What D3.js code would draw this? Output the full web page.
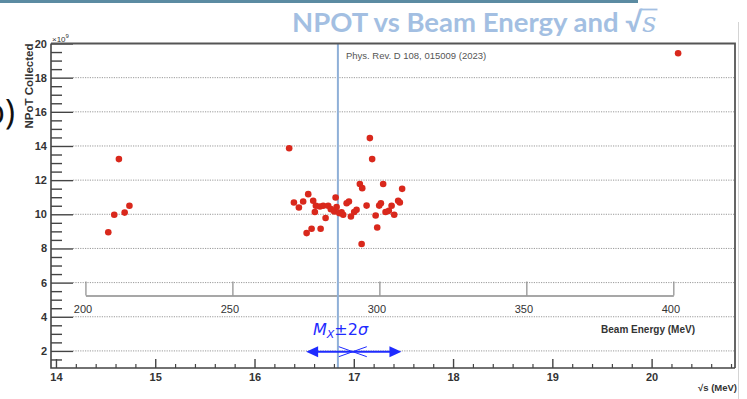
<!DOCTYPE html>
<html>
<head>
<meta charset="utf-8">
<script src="https://cdn.jsdelivr.net/npm/d3@7/dist/d3.min.js"></script>
<style>
  html, body { margin: 0; padding: 0; background: #fff; }
  svg { display: block; }
</style>
</head>
<body>
<svg id="chart" width="747" height="399"></svg>
<script>
// Collected protons on target per run, vs centre-of-mass energy sqrt(s) [MeV]
const sqrtS = [
  14.527, 14.587, 14.692, 14.740, 14.634,
  16.349, 16.397, 16.447, 16.490, 16.541, 16.591, 16.618, 16.608, 16.659,
  16.692, 16.742, 16.769, 16.803, 16.827, 16.716, 16.525, 16.575, 16.666,
  16.817, 16.877, 16.893, 16.853, 16.928, 16.951, 16.971, 17.004, 17.028,
  17.061, 17.085, 17.079, 17.129, 17.162, 17.185, 17.220, 17.236, 17.256,
  17.273, 17.296, 17.320, 17.353, 17.381, 17.407, 17.447, 17.464, 17.487,
  20.267
];
// NPOT collected, in units of 1e9
const npot = [
  8.95, 9.97, 10.10, 10.50, 13.23,
  13.87, 10.69, 10.40, 10.75, 11.18, 10.79, 10.50, 10.13, 10.46,
  10.50, 10.50, 10.30, 10.16, 10.42, 9.78, 8.90, 9.15, 9.15,
  10.98, 10.11, 9.97, 10.07, 10.65, 10.75, 9.87, 10.13, 10.26,
  11.77, 11.53, 8.26, 10.51, 14.46, 13.23, 9.93, 9.23, 10.51,
  10.65, 11.77, 10.13, 10.20, 10.50, 9.97, 10.79, 10.69, 11.49,
  19.43
];

const yMajorTicks = [2, 4, 6, 8, 10, 12, 14, 16, 18, 20];
const xMajorTicks = [14, 15, 16, 17, 18, 19, 20];
const beamTicks = [200, 250, 300, 350, 400];

const electronMass = 0.511;   // MeV
const massX = 16.84;          // vertical reference line, sqrt(s) [MeV]
const bandCenter = 17.0;      // centre of the M_X ± 2σ interval
const bandHalfWidth = 0.48;   // 2σ in sqrt(s) [MeV]

const svg = d3.select("#chart");

const pLeft = 51, pRight = 735, pTop = 43.5, pBottom = 368;
const x = d3.scaleLinear().domain([13.95, 20.84]).range([pLeft, pRight]);
const y = d3.scaleLinear().domain([1, 20]).range([pBottom, pTop]);

// slide decoration: header rule and right edge
svg.append("rect").attr("x", 0).attr("y", 0).attr("width", 638).attr("height", 3)
  .attr("fill", "#5b8ba2");
svg.append("line").attr("x1", 738.5).attr("x2", 738.5).attr("y1", 22).attr("y2", 399)
  .attr("stroke", "#d4d4d4").attr("stroke-width", 1);

// panel tag
svg.append("text").attr("x", 15).attr("y", 124).attr("text-anchor", "end")
  .attr("font-family", "Open Sans, sans-serif").attr("font-size", 34)
  .attr("fill", "#111").text("b)");

// title, with an overbar completing the radical over s
const titleColor = "#a3bfe2";
const title = svg.append("text").attr("x", 292).attr("y", 32)
  .attr("font-family", "Lato, 'Open Sans', sans-serif").attr("font-weight", "bold")
  .attr("font-size", 27.5).attr("fill", titleColor);
title.append("tspan").text("NPOT vs Beam Energy and ");
title.append("tspan").text("√");
const sSpan = title.append("tspan").attr("font-style", "italic").attr("font-family", "DejaVu Serif, serif")
  .attr("font-weight", "normal").text("s");
const tb = title.node().getBBox();
const sLen = sSpan.node().getComputedTextLength();
svg.append("line")
  .attr("x1", tb.x + tb.width - sLen - 1).attr("x2", tb.x + tb.width + 1)
  .attr("y1", tb.y + 4.5).attr("y2", tb.y + 4.5)
  .attr("stroke", titleColor).attr("stroke-width", 1.8);

// horizontal dotted grid
svg.append("g").selectAll("line").data(yMajorTicks.filter(v => v < 20)).join("line")
  .attr("x1", pLeft + 22).attr("x2", pRight)
  .attr("y1", d => y(d)).attr("y2", d => y(d))
  .attr("stroke", "#9a9a9a").attr("stroke-width", 1).attr("stroke-dasharray", "1.2,1.2");

// beam energy axis (linear in E, placed at sqrt(2 m_e E))
const e = d3.scaleLinear().domain([200, 400])
  .range([x(Math.sqrt(2 * electronMass * 200)), x(Math.sqrt(2 * electronMass * 400))]);
const beamAxis = svg.append("g").attr("transform", `translate(0,${y(5.25)})`)
  .call(d3.axisBottom(e).tickValues(beamTicks).tickSizeInner(-14).tickSizeOuter(0).tickPadding(10));
beamAxis.select(".domain").attr("stroke", "#8a8a8a").attr("stroke-width", 1.5);
beamAxis.selectAll(".tick line").attr("stroke", "#8a8a8a").attr("stroke-width", 1.2);
beamAxis.selectAll(".tick text").attr("font-family", "Liberation Sans, Arial, sans-serif")
  .attr("font-size", 11).attr("fill", "#333").attr("dx", -3);
svg.append("text").attr("x", 695).attr("y", 333).attr("text-anchor", "end")
  .attr("font-family", "Liberation Sans, Arial, sans-serif").attr("font-weight", "bold")
  .attr("font-size", 10).attr("fill", "#333").text("Beam Energy (MeV)");

// vertical reference line
svg.append("line").attr("x1", x(massX)).attr("x2", x(massX)).attr("y1", pTop).attr("y2", pBottom)
  .attr("stroke", "#8fb0d8").attr("stroke-width", 2);

svg.append("text").attr("x", x(massX) + 8).attr("y", 59)
  .attr("font-family", "Liberation Sans, Arial, sans-serif")
  .attr("font-size", 9.5).attr("fill", "#555").text("Phys. Rev. D 108, 015009 (2023)");

// y axis
const yMinor = d3.range(1.5, 20, 0.5).filter(v => !yMajorTicks.includes(v));
const yAxisMinor = svg.append("g").attr("transform", `translate(${pLeft},0)`)
  .call(d3.axisLeft(y).tickValues(yMinor).tickSizeInner(-11).tickSizeOuter(0).tickFormat(""));
yAxisMinor.select(".domain").remove();
yAxisMinor.selectAll(".tick line").attr("stroke", "#444").attr("stroke-width", 1.4);
const yAxis = svg.append("g").attr("transform", `translate(${pLeft},0)`)
  .call(d3.axisLeft(y).tickValues(yMajorTicks).tickSizeInner(-22).tickSizeOuter(0).tickPadding(4));
yAxis.select(".domain").remove();
yAxis.selectAll(".tick line").attr("stroke", "#444").attr("stroke-width", 1.4);
yAxis.selectAll(".tick text").attr("font-family", "Liberation Sans, Arial, sans-serif")
  .attr("font-weight", "bold").attr("font-size", 11).attr("fill", "#333");

svg.append("text").attr("transform", `translate(33,${pTop}) rotate(-90)`)
  .attr("text-anchor", "end")
  .attr("font-family", "Liberation Sans, Arial, sans-serif").attr("font-weight", "bold")
  .attr("font-size", 11.5).attr("fill", "#333").text("NPoT Collected");

const expo = svg.append("text").attr("x", 52).attr("y", 42)
  .attr("font-family", "Liberation Sans, Arial, sans-serif")
  .attr("font-size", 8).attr("fill", "#333");
expo.append("tspan").text("×10");
expo.append("tspan").attr("dy", -4).attr("font-size", 6).text("9");

// x axis
const xMinor = d3.range(14, 20.81, 0.2).map(v => +v.toFixed(1)).filter(v => !xMajorTicks.includes(v));
const xAxisMinor = svg.append("g").attr("transform", `translate(0,${pBottom})`)
  .call(d3.axisBottom(x).tickValues(xMinor).tickSizeInner(-4).tickSizeOuter(0).tickFormat(""));
xAxisMinor.select(".domain").remove();
xAxisMinor.selectAll(".tick line").attr("stroke", "#444").attr("stroke-width", 1.2);
const xAxis = svg.append("g").attr("transform", `translate(0,${pBottom})`)
  .call(d3.axisBottom(x).tickValues(xMajorTicks).tickFormat(d3.format("d"))
    .tickSizeInner(-9).tickSizeOuter(0).tickPadding(5));
xAxis.select(".domain").remove();
xAxis.selectAll(".tick line").attr("stroke", "#444").attr("stroke-width", 1.4);
xAxis.selectAll(".tick text").attr("font-family", "Liberation Sans, Arial, sans-serif")
  .attr("font-weight", "bold").attr("font-size", 11).attr("fill", "#333");

svg.append("text").attr("x", 737).attr("y", 391).attr("text-anchor", "end")
  .attr("font-family", "Liberation Sans, Arial, sans-serif").attr("font-weight", "bold")
  .attr("font-size", 9.5).attr("fill", "#333").text("√s (MeV)");

// frame
svg.append("path")
  .attr("d", `M${pLeft},${pTop}H${pRight}V${pBottom}`)
  .attr("fill", "none").attr("stroke", "#555").attr("stroke-width", 1.8);
svg.append("path")
  .attr("d", `M${pLeft},${pTop}V${pBottom}H${pRight}`)
  .attr("fill", "none").attr("stroke", "#444").attr("stroke-width", 1.6);

// data points
svg.append("g").selectAll("circle").data(sqrtS.map((s, i) => [s, npot[i]])).join("circle")
  .attr("cx", d => x(d[0])).attr("cy", d => y(d[1])).attr("r", 3.3)
  .attr("fill", "#d9281c");

// M_X ± 2σ annotation
const blue = "#1f2bff";
const ay = 351.7;
const x0 = x(bandCenter - bandHalfWidth), x1 = x(bandCenter + bandHalfWidth), xc = x(bandCenter);
svg.append("line").attr("x1", x0 + 8).attr("x2", x1 - 8).attr("y1", ay).attr("y2", ay)
  .attr("stroke", blue).attr("stroke-width", 2);
svg.append("path").attr("d", `M${x0},${ay}L${x0 + 12},${ay - 5.5}L${x0 + 12},${ay + 5.5}Z`).attr("fill", blue);
svg.append("path").attr("d", `M${x1},${ay}L${x1 - 12},${ay - 5.5}L${x1 - 12},${ay + 5.5}Z`).attr("fill", blue);
svg.append("path")
  .attr("d", `M${xc - 15},${ay - 5}L${xc + 13},${ay + 5}M${xc - 15},${ay + 5}L${xc + 13},${ay - 5}`)
  .attr("stroke", blue).attr("stroke-width", 1).attr("fill", "none");

const lab = svg.append("text").attr("x", 313).attr("y", 335)
  .attr("font-family", "DejaVu Sans, sans-serif").attr("font-size", 16).attr("fill", blue);
lab.append("tspan").attr("font-style", "italic").text("M");
lab.append("tspan").attr("font-style", "italic").attr("font-size", 11).attr("dy", 3).text("X");
lab.append("tspan").attr("dy", -3).text("±2");
lab.append("tspan").attr("font-style", "italic").text("σ");
</script>
</body>
</html>
